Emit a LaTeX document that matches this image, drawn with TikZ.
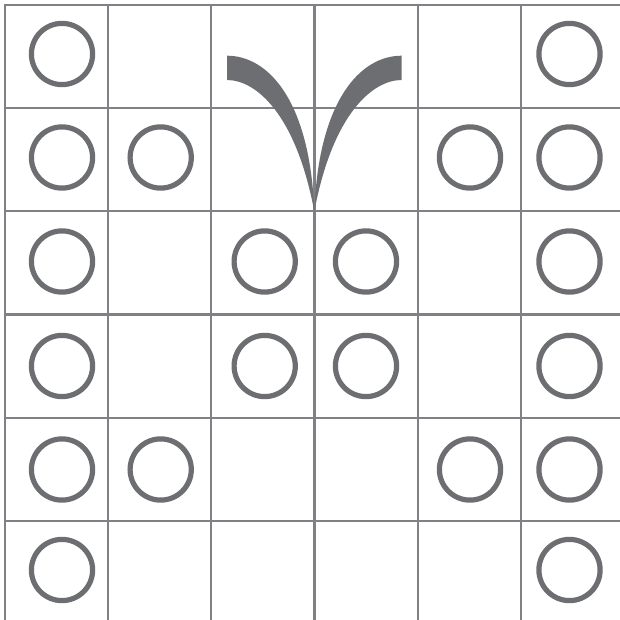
\documentclass[tikz,border=0pt]{standalone}
\usepackage{tikz}
\definecolor{gridgray}{HTML}{808184}
\definecolor{inkgray}{HTML}{6D6E71}
\tikzset{
  gridline/.style={draw=gridgray, line width=2.2pt},
  ring/.style={draw=inkgray, line width=5.2pt},
  wing/.style={fill=inkgray, draw=none}
}
\begin{document}
\begin{tikzpicture}[x=1pt,y=-1pt]
\useasboundingbox (0,0) rectangle (620,620);
\fill[white] (0,0) rectangle (620,620);
% grid
\foreach \i in {0,...,5} {
  \pgfmathsetmacro{\p}{5+103.15*\i}
  \draw[gridline] (\p,4) -- (\p,621);
  \draw[gridline] (4,\p) -- (621,\p);
}
% circles
\def\cx{{62,160.7,264.7,366,470,569.5}}
\def\cy{{54,157.5,261.5,366,469.5,570}}
\foreach \c/\r in {0/0,5/0, 0/1,1/1,4/1,5/1, 0/2,2/2,3/2,5/2, 0/3,2/3,3/3,5/3, 0/4,1/4,4/4,5/4, 0/5,5/5} {
  \pgfmathsetmacro{\X}{\cx[\c]}
  \pgfmathsetmacro{\Y}{\cy[\r]}
  \draw[ring] (\X,\Y) circle[radius=30.6];
}
% wings
\coordinate (tip) at (314.3,211.5);
\fill[wing] (227,55.7) .. controls (268,55.7) and (310,100) .. (tip)
  .. controls (296,114) and (256,80) .. (227,80) -- cycle;
\fill[wing] (401.6,55.7) .. controls (360.6,55.7) and (318.6,100) .. (tip)
  .. controls (332.6,114) and (372.6,80) .. (401.6,80) -- cycle;
\end{tikzpicture}
\end{document}
